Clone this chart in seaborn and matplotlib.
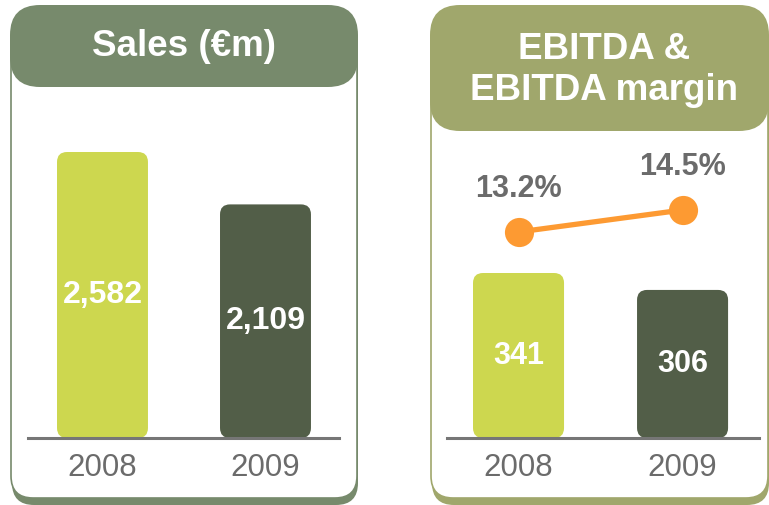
import matplotlib.pyplot as plt
import seaborn as sns
from matplotlib.patches import FancyBboxPatch
from matplotlib.transforms import IdentityTransform

# data
years = ['2008', '2009']
sales = [2582, 2109]
sales_labels = ['2,582', '2,109']
ebitda = [341, 306]
ebitda_labels = ['341', '306']
margin = [13.2, 14.5]
margin_labels = ['13.2%', '14.5%']

# colours
light = '#cdd74f'
dark = '#525e48'
sales_head = '#778a6c'
ebitda_head = '#a0a76c'
orange = '#fd9a32'
grey = '#6b6b6b'
axis_grey = '#767676'

sns.set_style('white')
plt.rcParams['font.family'] = ['Liberation Sans', 'DejaVu Sans']

W, H = 769, 505
fig = plt.figure(figsize=(W / 100, H / 100), dpi=100)


def px(x, y, w, h):
    # image pixels (top-left origin) -> figure fraction rect
    return [x / W, 1 - (y + h) / H, w / W, h / H]


def rbox(x, y, w, h, r, z, **kw):
    p = FancyBboxPatch((x, H - y - h), w, h,
                       boxstyle=f'round,pad=0,rounding_size={r}',
                       transform=IdentityTransform(), zorder=z, **kw)
    fig.add_artist(p)


# panel backgrounds
for x0, w0, head_h, col in [(11, 346, 82, sales_head), (431, 337, 126, ebitda_head)]:
    rbox(x0 + 1, 37, w0, 468, 22, 0.5, facecolor=col, edgecolor='none')
    rbox(x0, 30, w0, 468, 22, 0.6, facecolor='white', edgecolor=col, linewidth=1.2)
    rbox(x0 - 1, 5, w0 + 2, head_h, 30, 0.7, facecolor=col, edgecolor='none')

fig.text(184 / W, 1 - 47 / H, 'Sales (€m)', ha='center', va='center',
         fontsize=26.5, fontweight='bold', color='white')
fig.text(604 / W, 1 - 70 / H, 'EBITDA &\nEBITDA margin', ha='center', va='center',
         multialignment='center', linespacing=1.2,
         fontsize=26.5, fontweight='bold', color='white')


def style_axes(ax):
    ax.patch.set_visible(False)
    ax.set_zorder(5)
    for s in ['top', 'left', 'right']:
        ax.spines[s].set_visible(False)
    ax.spines['bottom'].set_color(axis_grey)
    ax.spines['bottom'].set_linewidth(2.2)
    ax.set_yticks([])
    ax.set_xlabel('')
    ax.set_ylabel('')
    ax.tick_params(axis='x', length=0, pad=10.5, labelsize=22.5, labelcolor=grey)


def round_bars(ax, r=10):
    for p in ax.patches:
        ext = p.get_window_extent()
        p.set_visible(False)
        rb = FancyBboxPatch((ext.x0, ext.y0), ext.width, ext.height,
                            boxstyle=f'round,pad=0,rounding_size={r}',
                            transform=IdentityTransform(),
                            facecolor=p.get_facecolor(), edgecolor='none', zorder=4)
        fig.add_artist(rb)


# Sales panel
ax1 = fig.add_axes(px(28, 138, 311, 300))
sns.barplot(x=years, y=sales, hue=years, palette=[light, dark], saturation=1,
            width=0.558, legend=False, ax=ax1)
ax1.set_xlim(-0.457, 1.451)
ax1.set_ylim(0, 2582 * 300 / 286)
style_axes(ax1)
round_bars(ax1)
for cont, lbl in zip(ax1.containers, sales_labels):
    ax1.bar_label(cont, labels=[lbl], label_type='center', color='white',
                  fontsize=23, fontweight='bold', zorder=6)

# EBITDA panel
ax2 = fig.add_axes(px(447, 138, 312, 300))
sns.barplot(x=years, y=ebitda, hue=years, palette=[light, dark], saturation=1,
            width=0.555, legend=False, ax=ax2)
ax2.set_xlim(-0.436, 1.466)
ax2.set_ylim(0, 620)
style_axes(ax2)
round_bars(ax2)
for cont, lbl in zip(ax2.containers, ebitda_labels):
    ax2.bar_label(cont, labels=[lbl], label_type='center', color='white',
                  fontsize=22, fontweight='bold', zorder=6)

ax3 = ax2.twinx()
sns.lineplot(x=[0, 1], y=margin, color=orange, linewidth=3.8, marker='o',
             markersize=21, markeredgewidth=0, ax=ax3)
ax3.set_ylim(1.01, 18.76)
ax2.set_xlim(-0.436, 1.466)
ax3.set_zorder(6)
ax3.patch.set_visible(False)
for s in ax3.spines.values():
    s.set_visible(False)
ax3.set_yticks([])
for i, (m, lbl) in enumerate(zip(margin, margin_labels)):
    ax3.annotate(lbl, (i, m), xytext=(0, 31), textcoords='offset points',
                 ha='center', va='center', fontsize=22, fontweight='bold', color=grey)

fig.savefig('out.png', dpi=100)
